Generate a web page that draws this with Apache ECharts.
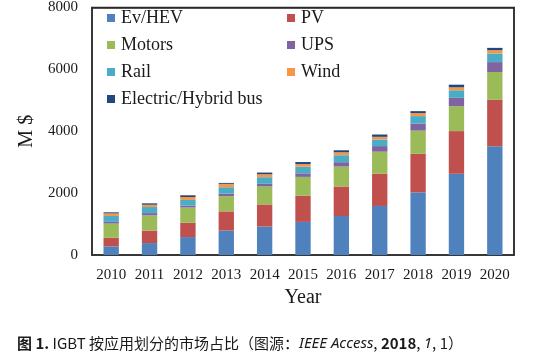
<!DOCTYPE html>
<html><head><meta charset="utf-8">
<script src="https://cdn.jsdelivr.net/npm/echarts@6/dist/echarts.min.js"></script>
<style>html,body{margin:0;padding:0;background:#fff}#c{width:555px;height:356px}</style>
</head><body><div id="c"></div>
<script>
const years = ['2010','2011','2012','2013','2014','2015','2016','2017','2018','2019','2020'];
const evHev = [280, 385, 580, 790, 920, 1070, 1260, 1585, 2025, 2625, 3515];
const pv = [275, 405, 460, 620, 715, 845, 955, 1040, 1245, 1380, 1500];
const motors = [460, 490, 495, 490, 580, 610, 645, 715, 750, 805, 900];
const ups = [55, 75, 65, 85, 85, 115, 140, 180, 225, 270, 320];
const rail = [190, 195, 180, 205, 215, 215, 225, 215, 245, 245, 280];
const wind = [85, 75, 95, 110, 95, 85, 95, 85, 95, 95, 105];
const bus = [35, 45, 55, 30, 55, 65, 65, 75, 65, 85, 75];
const yTicks = [0, 2000, 4000, 6000, 8000];

const serif = 'Liberation Serif';
const names = ['Ev/HEV','PV','Motors','UPS','Rail','Wind','Electric/Hybrid bus'];
const colors = ['#4F81BD','#C0504D','#9BBB59','#8064A2','#4BACC6','#F79646','#1F497D'];
const datas = [evHev, pv, motors, ups, rail, wind, bus];
const frame = {show: true, onZero: false, lineStyle: {color: '#2b2b2b', width: 1.5}};

const chart = echarts.init(document.getElementById('c'));
const legendCommon = {
  orient: 'vertical', top: 9, padding: 0, itemGap: 9, itemWidth: 8, itemHeight: 8,
  icon: 'rect', selectedMode: false,
  textStyle: {fontFamily: serif, fontSize: 18, color: '#1a1a1a', lineHeight: 18, padding: [0,0,0,1]}
};
chart.setOption({
  animation: false,
  color: colors,
  title: {
    left: 17, top: 336, padding: 0,
    text: '{b|图 1.} IGBT 按应用划分的市场占比（图源：{i|IEEE Access}, {b|2018}, {i|1}, 1）',
    textStyle: {
      fontFamily: 'Noto Sans CJK SC', fontSize: 15, fontWeight: 'normal', color: '#1a1a1a',
      rich: {
        b: {fontFamily: 'Noto Sans CJK SC', fontSize: 15, fontWeight: 'bold', color: '#1a1a1a'},
        i: {fontFamily: 'Noto Sans', fontSize: 15, fontStyle: 'italic', color: '#1a1a1a'}
      }
    }
  },
  legend: [
    Object.assign({left: 107, data: ['Ev/HEV','Motors','Rail','Electric/Hybrid bus']}, legendCommon),
    Object.assign({left: 287, data: ['PV','UPS','Wind']}, legendCommon)
  ],
  grid: {left: 92, right: 41, top: 6, bottom: 101, show: true, borderColor: '#2b2b2b', borderWidth: 1.5, backgroundColor: 'transparent'},
  xAxis: [{
    type: 'category', data: years,
    axisLine: frame,
    axisTick: {show: false},
    axisLabel: {interval: 0, margin: 13, fontFamily: serif, fontSize: 15, color: '#1a1a1a'},
    name: 'Year', nameLocation: 'middle', nameGap: 33,
    nameTextStyle: {fontFamily: serif, fontSize: 20, color: '#1a1a1a'}
  }, {
    type: 'category', data: years, position: 'top',
    axisLine: frame, axisTick: {show: false}, axisLabel: {show: false}
  }],
  yAxis: [{
    type: 'value', min: yTicks[0], max: yTicks[yTicks.length-1], interval: yTicks[1]-yTicks[0],
    axisLine: frame,
    axisTick: {show: false},
    splitLine: {show: false},
    axisLabel: {margin: 14, fontFamily: serif, fontSize: 15, color: '#1a1a1a', formatter: v => String(v)},
    name: 'M $', nameLocation: 'middle', nameGap: 52, nameRotate: 90,
    nameTextStyle: {fontFamily: serif, fontSize: 20, color: '#1a1a1a'}
  }, {
    type: 'value', position: 'right', min: yTicks[0], max: yTicks[yTicks.length-1], interval: yTicks[1]-yTicks[0],
    axisLine: frame, axisTick: {show: false}, splitLine: {show: false}, axisLabel: {show: false}
  }],
  series: names.map((n, i) => ({
    name: n, type: 'bar', stack: 'total', data: datas[i], barWidth: '40%',
    itemStyle: {color: colors[i]}
  }))
});
</script></body></html>
